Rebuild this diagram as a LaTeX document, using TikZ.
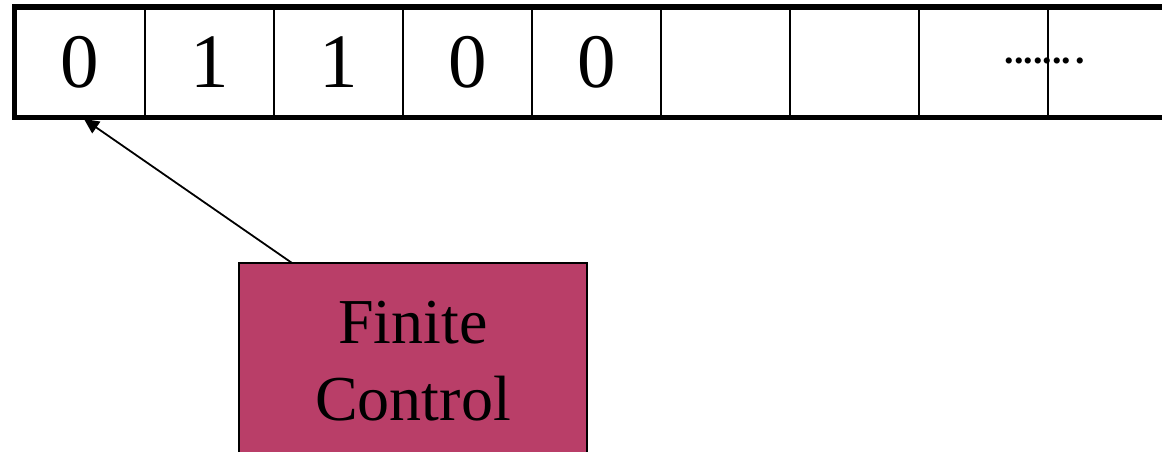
\documentclass[tikz,border=0pt]{standalone}
\usepackage{fontspec}
\setmainfont{Liberation Serif}
\usetikzlibrary{arrows.meta}
\definecolor{fcfill}{RGB}{185,62,104}
\begin{document}
\begin{tikzpicture}[x=1pt,y=-1pt,
  cell/.style={draw=black, line width=2pt, minimum width=129pt, minimum height=108.5pt, inner sep=0pt, font=\fontsize{77}{80}\selectfont, anchor=north west},
  thick border/.style={line width=5.5pt},
  fcbox/.style={draw=black, line width=1.5pt, fill=fcfill, minimum width=348pt, minimum height=196pt, inner sep=0pt, align=center, font=\fontsize{64}{77}\selectfont},
  headarrow/.style={line width=1.8pt, -{Triangle[length=15pt,width=14pt]}}]
\useasboundingbox (0,0) rectangle (1162,452);
\clip (0,0) rectangle (1162,452);
\fill[white] (0,0) rectangle (1162,452);
% tape cells
\node[cell] (c1) at (14.5,7) {0};
\node[cell] (c2) at (144,7) {1};
\node[cell] (c3) at (273,7) {1};
\node[cell] (c4) at (402,7) {0};
\node[cell] (c5) at (531,7) {0};
\node[cell] (c6) at (660,7) {};
\node[cell] (c7) at (789,7) {};
\node[cell] (c8) at (918,7) {};
\node[cell] (c9) at (1047,7) {};
% thick outer borders
\draw[thick border] (c9.north east) -- (c1.north west) -- (c1.south west) -- (c9.south east);
% dots
\node[anchor=base west, inner sep=0pt, font=\fontsize{38}{40}\selectfont\bfseries] (dots) at (1004.5,63.5) {.......\kern4.5pt.};
% finite control
\node[fcbox] (fc) at (413,361) {Finite\\Control};
\coordinate (tail) at (292,263);
\coordinate (head) at (84,119);
\draw[headarrow] (tail) -- (head);
\end{tikzpicture}
\end{document}
